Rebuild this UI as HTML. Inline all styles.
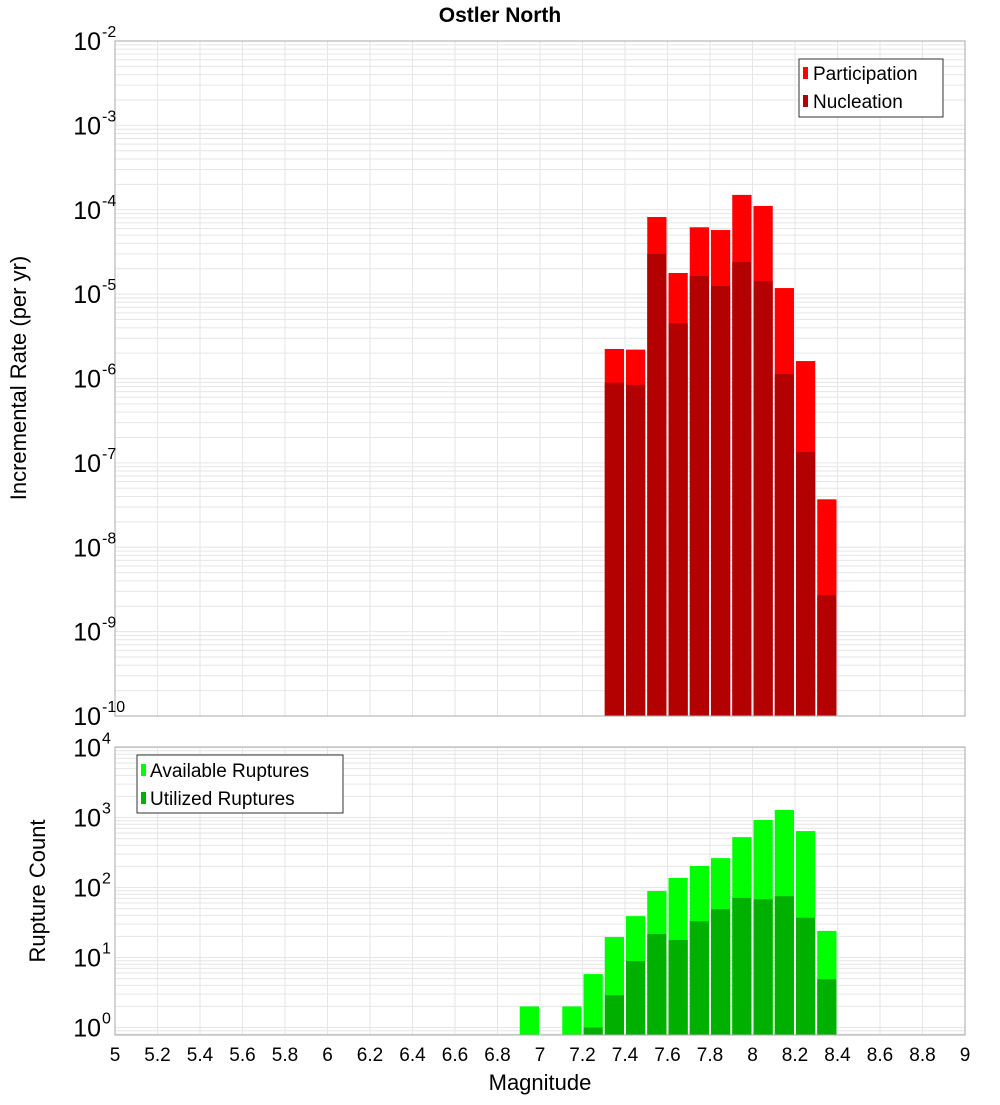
<!DOCTYPE html>
<html><head><meta charset="utf-8"><style>
body{margin:0;background:#fff}
svg text{font-family:"Liberation Sans","DejaVu Sans",sans-serif;fill:#000}
</style></head><body>
<svg id="c" width="1000" height="1100" xmlns="http://www.w3.org/2000/svg">
<text x="500" y="22" font-size="21" font-weight="bold" text-anchor="middle">Ostler North</text>
<g id="top"></g>
<g id="bot"></g>
<text transform="translate(26,378) rotate(-90)" font-size="22" text-anchor="middle">Incremental Rate (per yr)</text>
<text transform="translate(45,891) rotate(-90)" font-size="22" text-anchor="middle">Rupture Count</text>
<text x="540" y="1090" font-size="22" text-anchor="middle">Magnitude</text>
<g>
<rect x="799" y="59" width="144" height="58" fill="#fff" stroke="#333" stroke-width="1"/>
<rect x="803" y="67" width="5" height="12" fill="#ff0000"/>
<text x="813" y="80" font-size="19">Participation</text>
<rect x="803" y="95" width="5" height="12" fill="#b30000"/>
<text x="813" y="108" font-size="19">Nucleation</text>
</g>
<g>
<rect x="137" y="755" width="206" height="58" fill="#fff" stroke="#333" stroke-width="1"/>
<rect x="141" y="764" width="5" height="12" fill="#00ff00"/>
<text x="150" y="777" font-size="19">Available Ruptures</text>
<rect x="141" y="792" width="5" height="12" fill="#00b000"/>
<text x="150" y="805" font-size="19">Utilized Ruptures</text>
</g>
</svg>
<script>
const rateBins=[7.35,7.45,7.55,7.65,7.75,7.85,7.95,8.05,8.15,8.25,8.35];
const participation=[2.24e-6,2.2e-6,8.2e-5,1.78e-5,6.2e-5,5.75e-5,1.5e-4,1.11e-4,1.18e-5,1.61e-6,3.7e-8];
const nucleation=[8.9e-7,8.4e-7,3.0e-5,4.5e-6,1.64e-5,1.25e-5,2.4e-5,1.43e-5,1.13e-6,1.35e-7,2.7e-9];
const countBins=[6.95,7.15,7.25,7.35,7.45,7.55,7.65,7.75,7.85,7.95,8.05,8.15,8.25,8.35];
const available=[2,2,5.8,19.6,39,89,137,203,263,525,920,1280,640,24];
const utilized=[0,0,1,2.9,8.9,21.7,17.8,33,49,71,68,75,37,4.9];
const xTicks=[5,5.2,5.4,5.6,5.8,6,6.2,6.4,6.6,6.8,7,7.2,7.4,7.6,7.8,8,8.2,8.4,8.6,8.8,9];
const rateExp=[-2,-3,-4,-5,-6,-7,-8,-9,-10];
const countExp=[0,1,2,3,4];
const NS="http://www.w3.org/2000/svg";
const X0=115,X1=965;
const xs=m=>X0+(m-5)/4*(X1-X0);
const binW=0.1;
function mk(p,t,a){const e=document.createElementNS(NS,t);for(const k in a)e.setAttribute(k,a[k]);p.appendChild(e);return e;}
function panel(g,top,bot,yTop,yBot,eMin,eMax,exps,bins,s1,s2,c1,c2,nm){
  const ys=v=>yTop+(eMax-Math.log10(v))*(yBot-yTop)/(eMax-eMin);
  mk(g,'rect',{x:X0,y:top,width:X1-X0,height:bot-top,fill:'#fff'});
  const gl=mk(g,'g',{});
  
  
  for(let e=Math.floor(eMin)-1;e<=eMax;e++)for(let k=1;k<10;k++){
    const y=ys(k*Math.pow(10,e)); if(y<top-0.5||y>bot+0.5)continue;
    mk(gl,'line',{x1:X0,x2:X1,y1:y,y2:y,stroke:'#e6e6e6','stroke-width':1});
  }
  xTicks.forEach(t=>{const x=xs(t);mk(gl,'line',{x1:x,x2:x,y1:top,y2:bot,stroke:'#e6e6e6','stroke-width':1});});
  bins.forEach((b,i)=>{
    const xa=xs(b-binW/2)+1,xb=xs(b+binW/2)-1;
    [[s1[i],c1,'-outer'],[s2[i],c2,'-inner']].forEach(([v,c,sfx])=>{
      if(!(v>0))return;
      const y=Math.max(top,ys(v));
      const r=mk(g,'rect',{x:xa,y:y,width:xb-xa,height:bot-y,fill:c});
      
      
    });
  });
  mk(g,'rect',{x:X0,y:top,width:X1-X0,height:bot-top,fill:'none',stroke:'#aaa','stroke-width':1});
  exps.forEach(e=>{
    const y=ys(Math.pow(10,e));
    const t=mk(g,'text',{x:101,y:y+9,'font-size':25,'text-anchor':'end'});
    t.textContent='10';
    
    
    const s=mk(g,'text',{x:102,y:y-4,'font-size':16});
    s.textContent=String(e).replace('-','-');
    
    
  });
}
panel(document.getElementById('top'),41,716,41,716,-10,-2,rateExp,rateBins,participation,nucleation,'#ff0000','#b30000','rate');
panel(document.getElementById('bot'),747,1035,747.5,1027.5,0,4,countExp,countBins,available,utilized,'#00ff00','#00b000','count');
const svg=document.getElementById('c');
xTicks.forEach(t=>{
  const e=mk(svg,'text',{x:xs(t),y:1061,'font-size':19,'text-anchor':'middle'});
  e.textContent=String(t);
  
  
});
</script>
</body></html>
